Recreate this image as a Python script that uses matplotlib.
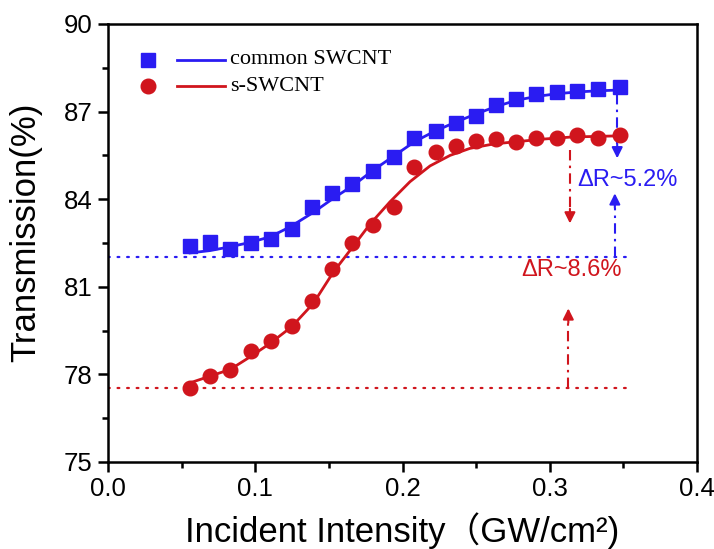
import numpy as np
import matplotlib
matplotlib.use("Agg")
import matplotlib.pyplot as plt
from matplotlib.ticker import MultipleLocator

plt.rcParams['font.family'] = ['Liberation Sans', 'Noto Sans CJK SC']

# measured transmission vs. incident intensity
intensity = [0.0557, 0.0693, 0.0829, 0.0972, 0.1107, 0.1250, 0.1386, 0.1522,
             0.1657, 0.1800, 0.1942, 0.2078, 0.2227, 0.2363, 0.2499, 0.2635,
             0.2771, 0.2907, 0.3049, 0.3185, 0.3328, 0.3477]
common_T = [82.39, 82.53, 82.28, 82.51, 82.62, 82.99, 83.74, 84.22,
            84.53, 84.97, 85.46, 86.08, 86.35, 86.62, 86.85, 87.22,
            87.43, 87.60, 87.68, 87.71, 87.79, 87.83]
s_T = [77.53, 77.93, 78.16, 78.79, 79.13, 79.64, 80.50, 81.61,
       82.51, 83.13, 83.74, 85.10, 85.60, 85.82, 85.99, 86.07,
       85.96, 86.11, 86.11, 86.20, 86.11, 86.20]

# fitted curves
fit_x_common = [0.0557, 0.0693, 0.0829, 0.0965, 0.1100, 0.1236, 0.1395, 0.1530,
                0.1667, 0.1803, 0.1950, 0.2085, 0.2220, 0.2357, 0.2504, 0.2640,
                0.2775, 0.2911, 0.3047, 0.3180, 0.3320, 0.3477]
fit_common = [82.16, 82.24, 82.37, 82.52, 82.71, 83.05, 83.55, 84.03,
              84.48, 85.00, 85.51, 85.98, 86.33, 86.63, 86.93, 87.18,
              87.39, 87.52, 87.61, 87.67, 87.71, 87.74]
fit_x_s = [0.0557, 0.0693, 0.0830, 0.0965, 0.1100, 0.1247, 0.1394, 0.1530,
           0.1667, 0.1780, 0.1915, 0.2051, 0.2187, 0.2323, 0.2458, 0.2617,
           0.2775, 0.2960, 0.3150, 0.3477]
fit_s = [77.71, 77.94, 78.17, 78.60, 79.06, 79.63, 80.43, 81.50,
         82.40, 83.15, 83.91, 84.60, 85.14, 85.50, 85.74, 85.89,
         85.97, 86.06, 86.13, 86.17]

# reference levels and modulation depth annotations
base_common = 82.03
base_s = 77.55
dR_common = "\u0394R~5.2%"
dR_s = "\u0394R~8.6%"

blue = '#2a1cf2'
red = '#d0151d'

fig = plt.figure(figsize=(7.14, 5.49), dpi=100)
ax = fig.add_axes([0.1513, 0.1585, 0.8249, 0.7978])

ax.plot(fit_x_common, fit_common, '-', color=blue, lw=2.0, zorder=3)
ax.plot(fit_x_s, fit_s, '-', color=red, lw=2.0, zorder=3)
ax.plot(intensity, common_T, 's', color=blue, ms=9.5, mec=blue, zorder=4)
ax.plot(intensity, s_T, 'o', color=red, ms=10.5, mec=red, zorder=4)

# dotted baselines
ax.plot([0.0, 0.352], [base_common, base_common], color=blue, lw=1.6,
        linestyle=(0, (0.8, 3.5)), dash_capstyle='round', zorder=2)
ax.plot([0.0, 0.352], [base_s, base_s], color=red, lw=1.6,
        linestyle=(0, (0.8, 3.5)), dash_capstyle='round', zorder=2)


def dashdot_arrow(x, y0, y1, color):
    # dash-dot shaft with a solid head at y1
    head = 0.5 if y1 > y0 else -0.5
    ax.plot([x, x], [y0, y1 - head], color=color, lw=1.5,
            linestyle=(0, (5, 2.5, 1.2, 2.5)), zorder=2)
    ax.annotate('', xy=(x, y1), xytext=(x, y1 - head),
                arrowprops=dict(arrowstyle='-|>', color=color, lw=1.5,
                                mutation_scale=16, shrinkA=0, shrinkB=0))


dashdot_arrow(0.3458, 87.6, 85.40, blue)
dashdot_arrow(0.3442, base_common, 84.20, blue)
dashdot_arrow(0.3137, 85.68, 83.17, red)
dashdot_arrow(0.3126, base_s, 80.26, red)

ax.text(0.3185, 84.65, dR_common, color=blue, fontsize=17, va='center', ha='left')
ax.text(0.3145, 81.59, dR_s, color=red, fontsize=17, va='center', ha='center')

# legend glyphs
tr = ax.transAxes
ax.plot([0.0679], [0.9185], 's', color=blue, ms=9.5, transform=tr)
ax.plot([0.117, 0.1986], [0.9185, 0.9185], '-', color=blue, lw=2.0, transform=tr)
ax.plot([0.0679], [0.8578], 'o', color=red, ms=10.5, transform=tr)
ax.plot([0.117, 0.1986], [0.8578, 0.8578], '-', color=red, lw=2.0, transform=tr)
ax.text(0.207, 0.9185, 'common SWCNT', transform=tr, fontsize=16,
        family='Liberation Serif', va='center', ha='left')
ax.text(0.207, 0.8578, 's-SWCNT', transform=tr, fontsize=16,
        family='Liberation Serif', va='center', ha='left')

ax.set_xlim(0.0, 0.4)
ax.set_ylim(75, 90)
ax.xaxis.set_major_locator(MultipleLocator(0.1))
ax.xaxis.set_minor_locator(MultipleLocator(0.05))
ax.yaxis.set_major_locator(MultipleLocator(3))
ax.yaxis.set_minor_locator(MultipleLocator(1.5))
ax.xaxis.set_major_formatter(plt.FormatStrFormatter('%.1f'))

for s in ax.spines.values():
    s.set_linewidth(1.8)
ax.tick_params(which='major', direction='out', length=7, width=1.8,
               labelsize=18.5, top=False, right=False, pad=4)
ax.tick_params(which='minor', direction='out', length=4.5, width=1.8,
               top=False, right=False)

ax.set_xlabel('Incident Intensity\uff08GW/cm\u00b2)', fontsize=25, labelpad=8)
ax.set_ylabel('Transmission(%)', fontsize=25)
ax.yaxis.set_label_coords(-0.112, 0.525)

fig.savefig('out.png', dpi=100)
